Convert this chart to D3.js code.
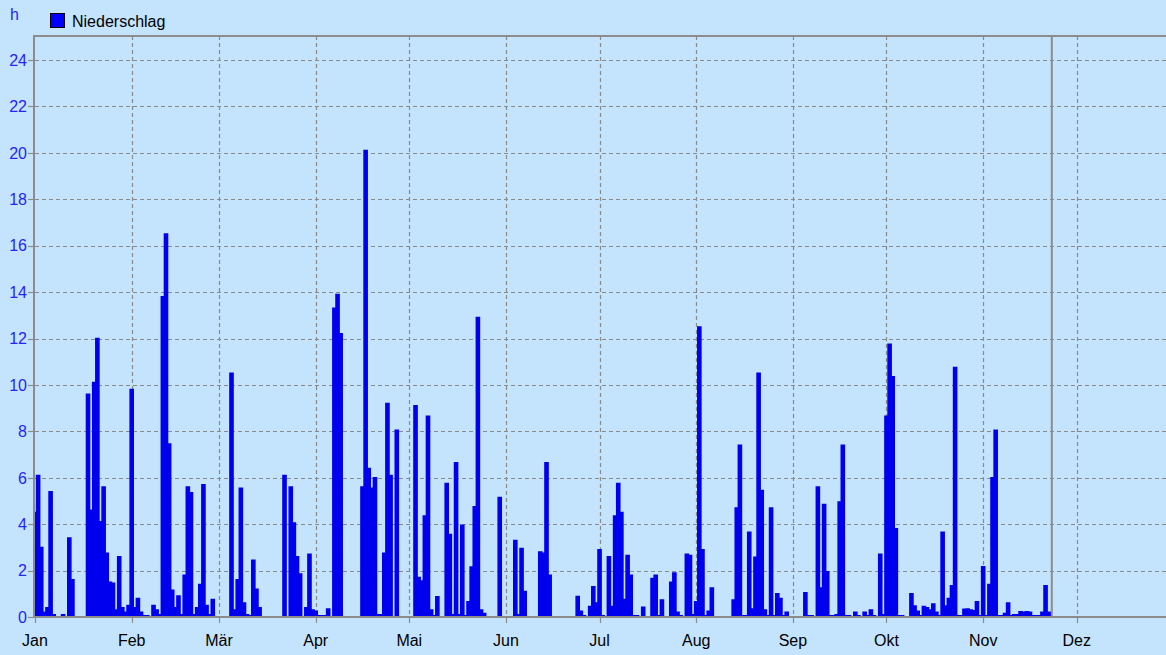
<!DOCTYPE html>
<html>
<head>
<meta charset="utf-8">
<script src="https://cdn.jsdelivr.net/npm/d3@7"></script>
<style>
  html, body { margin: 0; padding: 0; background: #c4e3fd; }
  svg { display: block; font-family: "Liberation Sans", Arial, sans-serif; }
</style>
</head>
<body>
<svg id="chart" width="1166" height="655"></svg>
<script>
// Tägliche Niederschlagsdauer in Stunden, ein Wert je Tag
const year = 2023;
const jan = [4.5, 6.1, 3.0, 0.2, 0.4, 5.4, 0.1, 0, 0, 0.1, 0, 3.4, 1.6, 0, 0, 0,
             0, 9.6, 4.6, 10.1, 12.0, 4.1, 5.6, 2.75, 1.5, 1.45, 0.3, 2.6, 0.4, 0.2, 0.5];
const feb = [9.8, 0.4, 0.8, 0.2, 0.05, 0.05, 0, 0.5, 0.3, 0.1, 13.8, 16.5, 7.45, 1.15,
             0.4, 0.9, 0.1, 1.8, 5.6, 5.35, 0.1, 0.4, 1.4, 5.7, 0.5, 0.1, 0.75, 0];
const mar = [0, 0, 0, 0, 10.5, 0.3, 1.6, 5.55, 0.6, 0.1, 0.05, 2.45, 1.2, 0.4, 0, 0,
             0, 0, 0, 0, 0, 6.1, 0, 5.6, 4.05, 2.6, 1.85, 0, 0.4, 2.7, 0.3];
const apr = [0.25, 0.05, 0.05, 0.05, 0.35, 0, 13.3, 13.9, 12.2, 0, 0, 0, 0, 0, 0,
             5.6, 20.1, 6.4, 5.55, 6.0, 0.1, 0.1, 2.75, 9.2, 6.1, 0, 8.05, 0, 0, 0];
const mai = [0, 0, 9.1, 1.7, 1.55, 4.35, 8.65, 0.3, 0.05, 0.87, 0, 0, 5.75, 3.55, 0.1,
             6.65, 0.1, 3.95, 0.05, 0.66, 2.15, 4.75, 12.9, 0.3, 0.15, 0, 0, 0, 0, 5.15, 0];
const jun = [0, 0, 0, 3.3, 0.1, 2.95, 1.1, 0, 0, 0, 0, 2.8, 2.75, 6.65, 1.8, 0,
             0, 0, 0, 0, 0, 0, 0, 0.88, 0.25, 0.05, 0, 0.45, 1.3, 0.6];
const jul = [2.9, 0.05, 0, 2.6, 0.45, 4.35, 5.75, 4.5, 0.75, 2.65, 1.8, 0.05, 0.05, 0,
             0.42, 0, 0, 1.66, 1.8, 0.05, 0.73, 0, 0, 1.5, 1.9, 0.2, 0.05, 0, 2.7, 2.65, 0.1];
const aug = [0.66, 12.5, 2.9, 0.05, 0.25, 1.25, 0, 0, 0, 0, 0, 0, 0.73, 4.7, 7.4, 0.05,
             0.05, 3.65, 0.35, 2.57, 10.5, 5.45, 0.3, 0.05, 4.7, 0.05, 1.0, 0.8, 0.05, 0.2, 0];
const sep = [0, 0, 0, 0, 1.05, 0.05, 0.05, 0, 5.6, 1.25, 4.85, 1.95, 0.05, 0.05, 0.1,
             4.95, 7.4, 0.05, 0.05, 0, 0.2, 0.05, 0, 0.2, 0.05, 0.3, 0.05, 0, 2.7, 0.1];
const okt = [8.65, 11.75, 10.35, 3.8, 0.05, 0.05, 0, 0, 1.0, 0.47, 0.25, 0.05, 0.45, 0.4,
             0.3, 0.56, 0.2, 0.05, 3.65, 0.47, 0.8, 1.35, 10.75, 0.05, 0.05, 0.33, 0.35,
             0.3, 0.27, 0.66, 0.05];
const nov = [2.17, 0.05, 1.4, 6.0, 8.05, 0.05, 0.05, 0.15, 0.6, 0.05, 0.1, 0.1, 0.23,
             0.2, 0.23, 0.2, 0.05, 0.05, 0.05, 0.2, 1.35, 0.2];

const monthLabels = ["Jan", "Feb", "Mär", "Apr", "Mai", "Jun", "Jul", "Aug", "Sep", "Okt", "Nov", "Dez"];
const yTicks = [0, 2, 4, 6, 8, 10, 12, 14, 16, 18, 20, 22, 24];
const seriesName = "Niederschlag";
const unitLabel = "h";
const today = new Date(year, 10, 23);

const values = [].concat(jan, feb, mar, apr, mai, jun, jul, aug, sep, okt, nov);
const daily = values.map((v, i) => ({ date: new Date(year, 0, 1 + i), value: v }));
// trailing zero closes the last step
daily.push({ date: new Date(year, 0, 1 + values.length), value: 0 });

const W = 1166, H = 655;
const plotLeft = 35, plotTop = 36, plotBottom = 617;
const dayPx = 3.119;

const x = d3.scaleTime()
  .domain([new Date(year, 0, 1), new Date(year + 1, 0, 1)])
  .range([plotLeft, plotLeft + 365 * dayPx]);
const y = d3.scaleLinear().domain([0, 25]).range([plotBottom, 36.8]);

const svg = d3.select("#chart");
const gridColor = "#8a8a8a";
const axisColor = "#8c8c8c";
const blue = "#0000ee";

svg.append("rect").attr("width", W).attr("height", H).attr("fill", "#c4e3fd");

svg.append("defs").append("clipPath").attr("id", "plotClip")
  .append("rect").attr("x", plotLeft).attr("y", plotTop).attr("width", W - plotLeft).attr("height", plotBottom - plotTop);

// Gitterlinien
const months = d3.timeMonth.range(new Date(year, 0, 1), new Date(year + 1, 0, 1));
const grid = svg.append("g").attr("stroke", gridColor).attr("stroke-width", 1.2)
  .attr("stroke-dasharray", "4,3").attr("fill", "none");
grid.selectAll("line.h").data(yTicks.filter(t => t > 0)).join("line")
  .attr("class", "h")
  .attr("x1", plotLeft).attr("x2", W)
  .attr("y1", d => Math.round(y(d)) + 0.5).attr("y2", d => Math.round(y(d)) + 0.5);
grid.selectAll("line.v").data(months.slice(1)).join("line")
  .attr("class", "v")
  .attr("x1", d => Math.round(x(d)) + 0.5).attr("x2", d => Math.round(x(d)) + 0.5)
  .attr("y1", plotTop).attr("y2", plotBottom);

// Niederschlagsfläche (Treppenstufen je Tag)
const area = d3.area()
  .x(d => x(d.date))
  .y0(y(0))
  .y1(d => y(d.value))
  .curve(d3.curveStep);
svg.append("path")
  .datum(daily)
  .attr("clip-path", "url(#plotClip)")
  .attr("d", area)
  .attr("fill", blue)
  .attr("stroke", blue)
  .attr("stroke-width", 1.5)
  .attr("stroke-linejoin", "miter");

// Rahmen und Achsen
const frame = svg.append("g").attr("stroke", axisColor).attr("stroke-width", 2).attr("fill", "none");
frame.append("line").attr("x1", plotLeft - 1).attr("x2", W).attr("y1", plotTop).attr("y2", plotTop);
frame.append("line").attr("x1", plotLeft - 1).attr("x2", plotLeft - 1).attr("y1", plotTop - 1).attr("y2", plotBottom + 1);
frame.append("line").attr("x1", plotLeft - 1).attr("x2", W).attr("y1", plotBottom).attr("y2", plotBottom);

// aktueller Tag
svg.append("line")
  .attr("x1", x(today)).attr("x2", x(today))
  .attr("y1", plotTop).attr("y2", plotBottom)
  .attr("stroke", "#8c8c8c").attr("stroke-width", 2);

// y-Achse
const yAxis = svg.append("g");
yAxis.selectAll("line").data(yTicks).join("line")
  .attr("x1", plotLeft - 7).attr("x2", plotLeft - 1)
  .attr("y1", d => Math.round(y(d)) + 0.5).attr("y2", d => Math.round(y(d)) + 0.5)
  .attr("stroke", axisColor).attr("stroke-width", 1.2);
yAxis.selectAll("text").data(yTicks).join("text")
  .attr("x", 27).attr("y", d => y(d))
  .attr("dy", "0.36em")
  .attr("text-anchor", "end")
  .attr("fill", "#2424ff")
  .attr("font-size", 16)
  .text(d => d);

svg.append("text").attr("x", 10).attr("y", 20)
  .attr("fill", "#2424ff").attr("font-size", 16).text(unitLabel);

// x-Achse
const xAxis = svg.append("g");
xAxis.selectAll("line").data(months).join("line")
  .attr("x1", d => Math.round(x(d)) + 0.5).attr("x2", d => Math.round(x(d)) + 0.5)
  .attr("y1", plotBottom).attr("y2", plotBottom + 6)
  .attr("stroke", axisColor).attr("stroke-width", 1.2);
xAxis.selectAll("text").data(months).join("text")
  .attr("x", d => x(d)).attr("y", 646)
  .attr("text-anchor", "middle")
  .attr("fill", "#000")
  .attr("font-size", 16)
  .text((d, i) => monthLabels[i]);

// Legende
const legend = svg.append("g");
legend.append("rect").attr("x", 50.5).attr("y", 13.5).attr("width", 14).attr("height", 14)
  .attr("fill", "#0000ff").attr("stroke", "#000").attr("stroke-width", 1);
legend.append("text").attr("x", 72).attr("y", 27)
  .attr("fill", "#000").attr("font-size", 16).text(seriesName);
</script>
</body>
</html>
